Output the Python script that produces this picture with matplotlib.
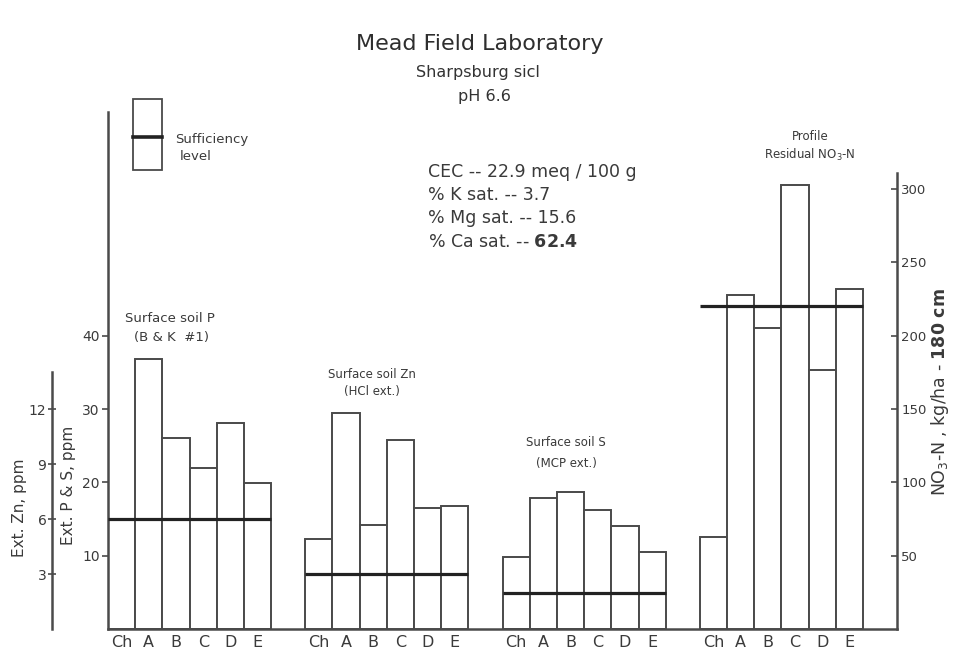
import matplotlib
matplotlib.use("Agg")
import matplotlib.pyplot as plt
from matplotlib.patches import Rectangle
from matplotlib.lines import Line2D

plt.rcParams['font.family'] = ['DejaVu Sans']
plt.rcParams['mathtext.fontset'] = 'dejavusans'

# ---------------- data ----------------
treatments = ["Ch", "A", "B", "C", "D", "E"]
p_ppm = [15.0, 36.8, 26.0, 22.0, 28.1, 19.9]          # Surface soil P (B & K #1)
p_suff = 15.0
zn_ppm = [4.9, 11.8, 5.7, 10.3, 6.6, 6.7]             # Surface soil Zn (HCl ext.)
zn_suff = 3.0
s_ppm = [9.8, 17.9, 18.7, 16.3, 14.1, 10.5]           # Surface soil S (MCP ext.)
s_suff = 4.9
no3_kg = [63, 228, 205, 303, 177, 232]                # Profile residual NO3-N
no3_suff = 220

ps_ticks = [10, 20, 30, 40]
zn_ticks = [3, 6, 9, 12]
no3_ticks = [50, 100, 150, 200, 250, 300]

# ---------------- layout ----------------
W, H = 956, 658
def fx(x): return x / W
def fy(y): return 1 - y / H

EC = '#4a4a4a'
TC = '#3a3a3a'
GROUP_STEP = 7.25
fig = plt.figure(figsize=(W / 100, H / 100), dpi=100)
base_px, top_px = 629, 112
ax = fig.add_axes([fx(108), fy(base_px), fx(897) - fx(108), (base_px - top_px) / H])
ymax = (base_px - top_px) / 7.33
ax.set_xlim(0, 29.0)
ax.set_ylim(0, ymax)

ax_zn = ax.twinx()
ax_zn.set_ylim(0, ymax * 0.4)
ax_no3 = ax.twinx()
ax_no3.set_ylim(0, ymax * 5)

def draw_group(axis, g, vals, suff):
    x0 = g * GROUP_STEP
    xs = [x0 + i for i in range(len(vals))]
    axis.bar(xs, vals, width=1.0, align='edge', facecolor='white',
             edgecolor=EC, linewidth=1.4, zorder=2)
    axis.hlines(suff, x0, x0 + len(vals), colors='#222222', linewidth=2.3, zorder=3)
    return [x + 0.5 for x in xs]

centers = []
centers += draw_group(ax, 0, p_ppm, p_suff)
centers += draw_group(ax_zn, 1, zn_ppm, zn_suff)
centers += draw_group(ax, 2, s_ppm, s_suff)
centers += draw_group(ax_no3, 3, no3_kg, no3_suff)

# main axis (P & S)
for s in ['top', 'right']:
    ax.spines[s].set_visible(False)
ax.spines['left'].set_linewidth(1.8)
ax.spines['left'].set_color(EC)
ax.spines['bottom'].set_linewidth(1.8)
ax.spines['bottom'].set_color(EC)
ax.set_yticks(ps_ticks)
ax.tick_params(axis='y', direction='out', length=4, width=1.2, color=EC,
               labelsize=10, labelcolor=TC, pad=2)
ax.set_xticks(centers)
ax.set_xticklabels(treatments * 4)
ax.tick_params(axis='x', length=0, labelsize=11.5, labelcolor=TC, pad=4)

# Zn axis
for s in ['top', 'right', 'bottom']:
    ax_zn.spines[s].set_visible(False)
ax_zn.spines['left'].set_visible(True)
ax_zn.spines['left'].set_position(('axes', (52 - 108) / 789))
ax_zn.spines['left'].set_bounds(0, 14)
ax_zn.spines['left'].set_linewidth(1.8)
ax_zn.spines['left'].set_color(EC)
ax_zn.yaxis.set_ticks_position('left')
ax_zn.set_yticks(zn_ticks)
ax_zn.tick_params(axis='y', direction='inout', length=6, width=1.2, color=EC,
                  labelsize=10, labelcolor=TC, pad=1)

# NO3 axis
for s in ['top', 'left', 'bottom']:
    ax_no3.spines[s].set_visible(False)
ax_no3.spines['right'].set_bounds(0, 311)
ax_no3.spines['right'].set_linewidth(1.8)
ax_no3.spines['right'].set_color(EC)
ax_no3.set_yticks(no3_ticks)
ax_no3.tick_params(axis='y', direction='in', length=4, width=1.2, color=EC,
                   labelsize=9.5, labelcolor=TC, pad=3)

# axis labels
fig.text(fx(20), fy(508), "Ext. Zn, ppm", rotation=90, ha='center', va='center',
         fontsize=11, color=TC)
fig.text(fx(68), fy(485), "Ext. P & S, ppm", rotation=90, ha='center', va='center',
         fontsize=11, color=TC)
fig.text(fx(940), fy(392), r"NO$_3$-N , kg/ha - $\mathbf{180\ cm}$", rotation=90,
         ha='center', va='center', fontsize=12.5, color=TC)

# titles
fig.text(fx(480), fy(44), "Mead Field Laboratory", ha='center', va='center',
         fontsize=16, color='#2e2e2e')
fig.text(fx(478), fy(72), "Sharpsburg sicl", ha='center', va='center',
         fontsize=11.5, color='#333333')
fig.text(fx(484), fy(97), "pH 6.6", ha='center', va='center',
         fontsize=11.5, color='#333333')

# legend box
fig.patches.append(Rectangle((fx(133), fy(170)), 29 / W, 71 / H, fill=False,
                             edgecolor=EC, linewidth=1.3, transform=fig.transFigure))
fig.lines.append(Line2D([fx(133), fx(162)], [fy(137), fy(137)], color='#222222',
                        linewidth=2.6, transform=fig.transFigure))
fig.text(fx(175), fy(140), "Sufficiency", ha='left', va='center', fontsize=9.5, color=TC)
fig.text(fx(196), fy(157), "level", ha='center', va='center', fontsize=9.5, color=TC)

# group annotations
ann = dict(ha='center', va='center', fontsize=8.5, color=TC)
fig.text(fx(170), fy(318), "Surface soil P", ha='center', va='center', fontsize=9.5, color=TC)
fig.text(fx(172), fy(337), "(B & K  #1)", ha='center', va='center', fontsize=9.5, color=TC)
fig.text(fx(372), fy(374), "Surface soil Zn", **ann)
fig.text(fx(372), fy(391), "(HCl ext.)", **ann)
fig.text(fx(566), fy(443), "Surface soil S", **ann)
fig.text(fx(566), fy(463), "(MCP ext.)", **ann)
fig.text(fx(810), fy(136), "Profile", **ann)
fig.text(fx(810), fy(155), r"Residual NO$_3$-N", **ann)

# soil properties block
blk = dict(ha='left', va='center', fontsize=12.5, color=TC)
fig.text(fx(428), fy(172), "CEC -- 22.9 meq / 100 g", **blk)
fig.text(fx(428), fy(195), "% K sat. -- 3.7", **blk)
fig.text(fx(428), fy(218), "% Mg sat. -- 15.6", **blk)
fig.text(fx(428), fy(242), r"% Ca sat. -- $\mathbf{62.4}$", **blk)

fig.savefig("out.png", dpi=100, facecolor='white')
